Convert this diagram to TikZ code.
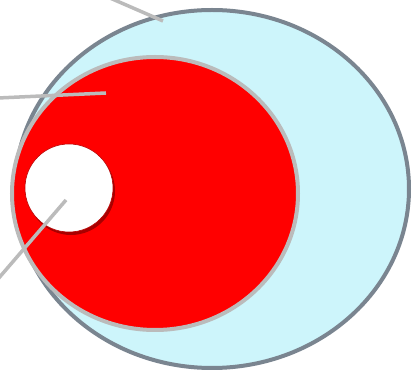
\documentclass[tikz,border=0pt]{standalone}
\definecolor{outerline}{HTML}{7A8590}
\definecolor{outerfill}{HTML}{CDF5FB}
\definecolor{greyline}{HTML}{BBBBBB}
\definecolor{shadowred}{HTML}{A80000}
\begin{document}
\begin{tikzpicture}[x=1pt,y=-1pt,
  outerring/.style={draw=outerline, fill=outerfill, line width=4pt},
  redring/.style={draw=greyline, fill=red, line width=4pt},
  holeshadow/.style={fill=shadowred},
  hole/.style={draw=shadowred!80!red, fill=white, line width=0.6pt},
  leader/.style={draw=greyline, line width=3.5pt}]
\useasboundingbox (0,0) rectangle (413,371);
\clip (0,0) rectangle (413,371);
\fill[white] (0,0) rectangle (413,371);
% outer ellipse
\draw[outerring] (212,189) ellipse [x radius=197, y radius=179];
% red ellipse
\draw[redring] (155,193.5) ellipse [x radius=143, y radius=136.5];
% white hole with shadow
\fill[holeshadow] (71,191) circle [radius=44];
\draw[hole] (69,188) circle [radius=44];
% leader lines
\coordinate (a1) at (110,-2);
\coordinate (a2) at (163,21);
\coordinate (b1) at (-2,98);
\coordinate (b2) at (106,93);
\coordinate (c1) at (-2,279);
\coordinate (c2) at (66,200);
\draw[leader] (a1) -- (a2);
\draw[leader] (b1) -- (b2);
\draw[leader] (c1) -- (c2);
\end{tikzpicture}
\end{document}
